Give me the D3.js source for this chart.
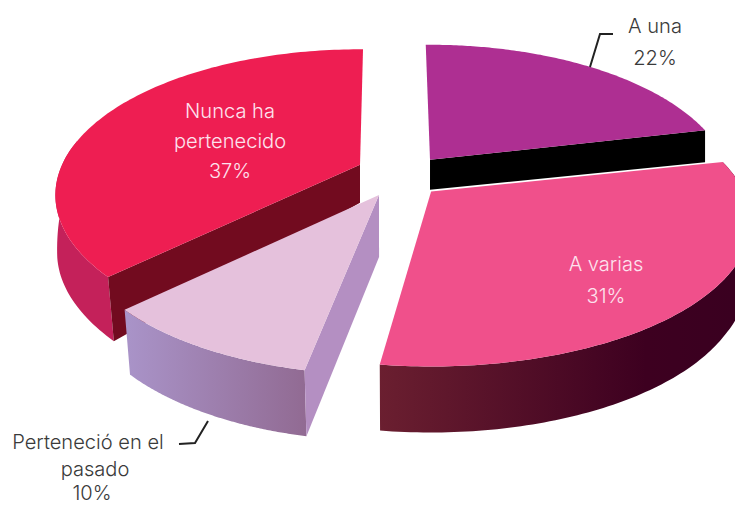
<!DOCTYPE html>
<html><head><meta charset="utf-8">
<script src="https://cdn.jsdelivr.net/npm/d3@7"></script>
<style>html,body{margin:0;background:#fff}svg{display:block}
text{font-family:Inter,"Open Sans",sans-serif;font-weight:300;font-size:20.1px;text-anchor:middle}</style>
</head><body><div id="c"></div>
<script>
const categories = ["A una", "A varias", "Perteneció en el pasado", "Nunca ha pertenecido"];
const values = [22, 31, 10, 37];
const labelLines = [["A una","22%"],["A varias","31%"],["Perteneció en el","pasado","10%"],["Nunca ha","pertenecido","37%"]];

const W = 735, H = 505, cx = 395, cy = 178;
const svg = d3.select("#c").append("svg").attr("width", W).attr("height", H);
const defs = svg.append("defs");
function grad(id, x1, x2, stops){
  const g = defs.append("linearGradient").attr("id", id).attr("gradientUnits","userSpaceOnUse")
    .attr("x1",x1).attr("x2",x2).attr("y1",0).attr("y2",0);
  stops.forEach(s=>g.append("stop").attr("offset",s[0]).attr("stop-color",s[1]));
}
grad("gVar",378,735,[[0,"#6b1f30"],[0.75,"#3d0020"],[1,"#3a0020"]]);
grad("gPer",128,308,[[0,"#a993c8"],[1,"#916a92"]]);

// Perspective tilted-plane projection
const k = 0.207, sx = 295, sy = 138.8;
const P = (u,v) => { const w = 1 + k*v; return [sx*u/w, -sy*v/w]; };
const depth = d3.scaleLinear().domain([130,160,166,195,273,365]).range([32,30,40,62,64,66]).clamp(true);
const shrink = d3.scaleLinear().domain([166,273]).range([1,0.98]).clamp(true);
const lift = ([x,y]) => [cx + (x-cx)*shrink(y), y + depth(y)];

const styles = [
  {top:"#ae2f92", offset:[ .122, .135], r:1, ru:1, nudge:[0,-1], cut:"end", cutFill:"#000"},
  {top:"#f0508b", offset:[ .120,-.095], r:1, ru:1.06, nudge:[-1,-2.3], outer:"url(#gVar)"},
  {top:"#e5c1dc", offset:[-.053,-.120], r:1.02, ru:1, nudge:[1.5,0.4], outer:"url(#gPer)", cut:"start", cutFill:"#b48fc2"},
  {top:"#ee1e52", offset:[-.121, .097], r:1.005, ru:1.005, nudge:[0.6,1.7], outer:"#c4215a", outerEnd:0.4, cut:"start", cutFill:"#720b1f"}
];
const arcs = d3.pie().sort(null).startAngle(-1*Math.PI/180).endAngle(359*Math.PI/180)(values);
const line = d3.line();

const order = [0,1,3,2];
order.forEach(i=>{
  const a = arcs[i], s = styles[i];
  const a0 = a.startAngle + s.nudge[0]*Math.PI/180, a1 = a.endAngle + s.nudge[1]*Math.PI/180;
  const o = P(s.offset[0], s.offset[1]);
  const apex = [cx+o[0], cy+o[1]];
  const rim = t => { const p = P(s.ru*s.r*Math.sin(t),s.r*Math.cos(t)); return [apex[0]+p[0], apex[1]+p[1]]; };
  const ts = d3.range(0,121).map(j=>a0+(a1-a0)*j/120);
  const rimPts = ts.map(rim);
  if (s.outer){
    const vis = rimPts.slice(0, Math.round(120*(s.outerEnd||1))+1);
    svg.append("path").attr("fill",s.outer)
      .attr("d", line(vis.concat(vis.map(lift).reverse()))+"Z");
  }
  if (s.cut){
    const e = s.cut==="start" ? rim(a0) : rim(a1);
    svg.append("path").attr("fill",s.cutFill)
      .attr("d", line([apex,e,lift(e),lift(apex)])+"Z");
  }
  svg.append("path").attr("fill",s.top).attr("d", line([apex].concat(rimPts))+"Z");
});

const labelPos = [
  {x:655, ys:[33,65], fill:"#3a3a3a"},
  {x:606, ys:[271,303], fill:"#fde3ee"},
  {x:88, xs:[88,95,92], ys:[449,476,500], fill:"#3a3a3a"},
  {x:230, ys:[118,148,178], fill:"#fde3ee"}
];
labelLines.forEach((ls,i)=>ls.forEach((t,j)=>{
  const p = labelPos[i];
  svg.append("text").attr("x",p.xs?p.xs[j]:p.x).attr("y",p.ys[j]).attr("fill",p.fill).text(t);
}));
[[[590,67],[600,34],[613,34]],[[208,421],[195,443],[179,444]]].forEach(l=>
  svg.append("path").attr("d",line(l)).attr("fill","none").attr("stroke","#222").attr("stroke-width",2));
</script></body></html>
